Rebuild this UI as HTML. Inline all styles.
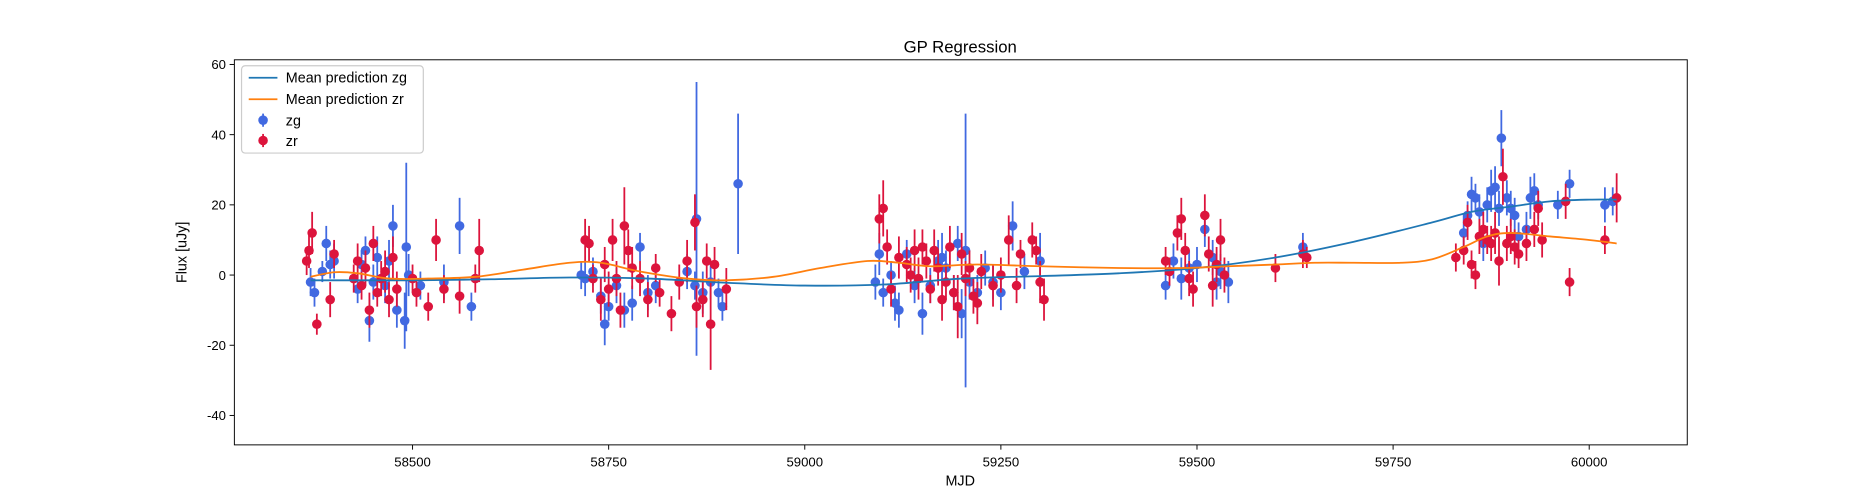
<!DOCTYPE html>
<html><head><meta charset="utf-8"><style>
body{margin:0;background:#fff;}
svg{display:block;font-family:"Liberation Sans","DejaVu Sans",sans-serif;}
</style></head><body>
<svg id="chart" width="1875" height="500" viewBox="0 0 1568 418.1" preserveAspectRatio="none" xmlns="http://www.w3.org/2000/svg">
<rect width="1568" height="418.1" fill="#fff"/>
<text x="803" y="44" text-anchor="middle" font-size="14">GP Regression</text>
<g id="plot"></g>
<rect x="196" y="50" width="1215" height="322" fill="none" stroke="#000" stroke-width="0.8"/>
<g id="axes"></g>
<text x="803" y="406" text-anchor="middle" font-size="12">MJD</text>
<text transform="translate(156,211) rotate(-90)" text-anchor="middle" font-size="12">Flux [uJy]</text>
<g>
<rect x="202" y="55" width="152" height="73" rx="3" fill="#fff" fill-opacity="0.8" stroke="#ccc"/>
<line x1="208" y1="65" x2="232" y2="65" stroke="#1f77b4" stroke-width="1.5"/>
<text x="239" y="69" font-size="12">Mean prediction zg</text>
<line x1="208" y1="83" x2="232" y2="83" stroke="#ff7f0e" stroke-width="1.5"/>
<text x="239" y="87" font-size="12">Mean prediction zr</text>
<line x1="220" y1="95" x2="220" y2="106" stroke="#4169e1" stroke-width="1.5"/><circle cx="220" cy="100.5" r="4" fill="#4169e1"/>
<text x="239" y="105" font-size="12">zg</text>
<line x1="220" y1="112" x2="220" y2="123" stroke="#dc143c" stroke-width="1.5"/><circle cx="220" cy="117.5" r="4" fill="#dc143c"/>
<text x="239" y="122" font-size="12">zr</text>
</g>
</svg>
<script>
const xTicks=[58500,58750,59000,59250,59500,59750,60000];
const yTicks=[-40,-20,0,20,40,60];
const zgMjd=[58370,58375,58385,58390,58395,58400,58430,58435,58440,58445,58450,58455,58465,58470,58475,58480,58490,58492,58495,58510,58540,58560,58575,
58715,58720,58730,58740,58745,58750,58760,58770,58780,58790,58800,58810,58850,58860,58862,58870,58880,58890,58895,58915,
59090,59095,59100,59110,59115,59120,59130,59140,59150,59160,59170,59175,59180,59190,59195,59200,59205,59210,59220,59230,59240,59250,59265,59280,59300,
59460,59470,59480,59490,59500,59510,59520,59525,59530,59540,59635,
59840,59845,59850,59855,59860,59865,59870,59875,59880,59885,59888,59895,59900,59905,59910,59920,59925,59930,59935,59960,59975,60020,60030];
const zgFlux=[-2,-5,1,9,3,4,-4,3,7,-13,-2,5,-3,4,14,-10,-13,8,0,-3,-2,14,-9,
0,-1,1,-6,-14,-9,-3,-10,-8,8,-5,-3,1,-3,16,-5,-2,-5,-9,26,
-2,6,-5,0,-8,-10,6,-3,-11,-3,4,5,2,-5,9,-11,7,-2,-5,2,-2,-5,14,1,4,
-3,4,-1,2,3,13,5,-2,1,-2,8,
12,17,23,22,18,9,20,24,25,19,39,22,19,17,11,13,22,24,20,20,26,20,21];
const zgErr=[4,4,3,5,4,5,4,4,4,6,5,6,5,6,6,5,8,24,6,4,5,8,4,
4,5,4,5,6,4,5,5,5,4,5,5,5,4,39,6,5,4,4,20,
5,6,4,4,5,5,4,5,6,5,6,7,5,5,5,7,39,5,5,5,5,5,7,5,8,
4,5,6,5,5,5,5,5,5,6,4,
5,4,5,4,5,5,5,6,6,5,8,5,5,5,4,5,6,5,4,4,4,5,4];
const zrMjd=[58365,58368,58372,58378,58395,58400,58425,58430,58435,58440,58445,58450,58455,58460,58465,58470,58475,58480,58500,58505,58520,58530,58540,58560,58580,58585,
58720,58725,58730,58740,58745,58750,58755,58760,58765,58770,58775,58780,58790,58800,58810,58815,58830,58840,58850,58860,58862,58870,58875,58880,58885,58900,
59095,59100,59105,59110,59120,59130,59135,59140,59145,59150,59155,59160,59165,59170,59175,59180,59185,59190,59195,59200,59205,59210,59215,59220,59225,59240,59250,59260,59270,59275,59290,59295,59300,59305,
59460,59465,59475,59480,59485,59490,59495,59510,59515,59520,59525,59530,59535,59600,59635,59640,
59830,59840,59845,59850,59855,59860,59865,59870,59875,59880,59885,59890,59895,59900,59905,59910,59920,59930,59935,59940,59970,59975,60020,60035];
const zrFlux=[4,7,12,-14,-7,6,-1,4,-3,2,-10,9,-5,-1,1,-7,5,-4,-1,-5,-9,10,-4,-6,-1,7,
10,9,-1,-7,3,-4,10,-1,-10,14,7,2,-1,-7,2,-5,-11,-2,4,15,-9,-7,4,-14,3,-4,
16,19,8,-4,5,3,0,7,-1,8,4,-4,7,2,-7,-2,8,-5,-9,6,-1,2,-6,-8,1,-3,0,10,-3,6,10,7,-2,-7,
4,1,12,16,7,-1,-4,17,6,-3,3,10,0,2,6,5,
5,7,15,3,0,11,13,10,9,12,4,28,9,11,8,6,9,13,19,10,21,-2,10,22];
const zrErr=[4,5,6,3,5,4,4,5,4,5,5,5,4,5,6,5,6,5,4,4,4,6,4,5,4,9,
6,5,4,6,5,5,6,5,5,11,6,6,5,5,4,4,5,5,6,8,6,5,5,13,5,6,
7,8,5,5,6,5,5,6,6,5,5,4,6,5,6,5,6,5,9,6,5,5,5,6,5,6,5,7,5,4,5,4,6,6,
4,4,5,6,5,5,5,6,5,6,5,6,5,4,4,3,
4,4,5,4,4,5,5,4,5,6,7,8,5,5,5,4,5,5,5,5,5,4,4,7];
const meanZgMjd=[58370,58450,58500,58600,58700,58800,58900,59000,59100,59200,59300,59400,59500,59600,59700,59800,59850,59900,59950,60000,60035];
const meanZgFlux=[-1.5,-1.5,-1.5,-1.2,-0.7,-1,-2.2,-3,-2.7,-1,-0.3,0.5,2,5,9.5,15,18,19.5,21,21.5,21.5];
const meanZrMjd=[58370,58400,58430,58470,58520,58580,58640,58700,58740,58790,58850,58900,58960,59020,59080,59120,59160,59220,59300,59400,59480,59540,59600,59650,59700,59760,59800,59840,59870,59900,59950,60000,60035];
const meanZrFlux=[-0.5,0.8,0.5,-1,-1,-0.5,1.5,3.5,3.5,1,-1,-1.5,-0.5,2,4,3.5,2.5,3,2.5,2,2,2.5,3,3.5,3.5,3.5,4.5,8,11,12,11,10,9];

const L=196,R=1411,T=50,B=372;
const xs=v=>345+(v-58500)*164/250;
const ys=v=>230-v*58.7/20;
const NS="http://www.w3.org/2000/svg";
const plot=document.getElementById('plot'),axes=document.getElementById('axes');
function mk(tag,attrs,parent){const e=document.createElementNS(NS,tag);for(const k in attrs)e.setAttribute(k,attrs[k]);parent.appendChild(e);return e;}
xTicks.forEach(t=>{const x=xs(t);
 const l=mk('line',{x1:x,x2:x,y1:B,y2:B+4,stroke:'#000','stroke-width':0.8},axes);
 
 
 const tx=mk('text',{x:x,y:B+18,'text-anchor':'middle','font-size':11},axes);tx.textContent=t;
 
 });
yTicks.forEach(t=>{const y=ys(t);
 const l=mk('line',{x1:L-4,x2:L,y1:y,y2:y,stroke:'#000','stroke-width':0.8},axes);
 
 
 const tx=mk('text',{x:L-7,y:y+4,'text-anchor':'end','font-size':11},axes);tx.textContent=t;
 
 });
function series(m,f,e,col,name){
 for(let i=0;i<m.length;i++){
  const x=xs(m[i]);
  const ln=mk('line',{x1:x,x2:x,y1:ys(f[i]-e[i]),y2:ys(f[i]+e[i]),stroke:col,'stroke-width':1.5},plot);
  
  
  const c=mk('circle',{cx:x,cy:ys(f[i]),r:4,fill:col},plot);
  
  
 }}
series(zgMjd,zgFlux,zgErr,'#4169e1','zg');
series(zrMjd,zrFlux,zrErr,'#dc143c','zr');
function line(m,f,col,name){
 const P=m.map((v,i)=>[xs(v),ys(f[i])]);
 let d='M'+P[0][0]+','+P[0][1];
 for(let i=0;i<P.length-1;i++){
  const p0=P[Math.max(0,i-1)],p1=P[i],p2=P[i+1],p3=P[Math.min(P.length-1,i+2)];
  const c1=[p1[0]+(p2[0]-p0[0])/6,p1[1]+(p2[1]-p0[1])/6];
  const c2=[p2[0]-(p3[0]-p1[0])/6,p2[1]-(p3[1]-p1[1])/6];
  d+=' C'+c1[0]+','+c1[1]+' '+c2[0]+','+c2[1]+' '+p2[0]+','+p2[1];
 }
 const p=mk('path',{d:d,fill:'none',stroke:col,'stroke-width':1.5},plot);
 
 }
line(meanZgMjd,meanZgFlux,'#1f77b4','mean-prediction-zg');
line(meanZrMjd,meanZrFlux,'#ff7f0e','mean-prediction-zr');
</script>
</body></html>
